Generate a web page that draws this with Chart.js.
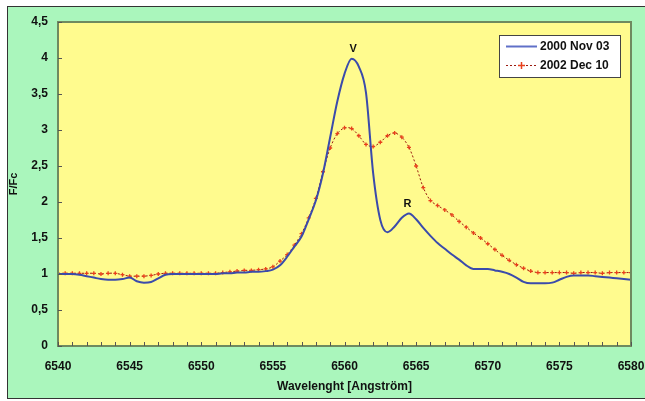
<!DOCTYPE html>
<html><head><meta charset="utf-8">
<script src="https://cdn.jsdelivr.net/npm/chart.js@4/dist/chart.umd.min.js"></script>
<style>
html,body{margin:0;padding:0;background:#fff;overflow:hidden;}
#frame{position:absolute;left:7px;top:6px;width:645px;height:393px;border:1px solid #333;background:#aaf6bc;box-sizing:border-box;}
canvas{position:absolute;left:0;top:0;}
</style></head>
<body>
<div id="frame"></div>
<canvas id="c" width="645" height="401"></canvas>
<script>
const wavelengths = [];
for (let w = 6540; w <= 6580; w += 0.5) wavelengths.push(w);

const nov2000 = [
 1.00,1.00,1.00,0.99,0.97,0.95,0.93,0.92,0.92,0.93,
 0.95,0.90,0.88,0.89,0.94,0.99,1.00,1.00,1.00,1.00,
 1.00,1.00,1.00,1.01,1.01,1.02,1.02,1.03,1.03,1.04,
 1.06,1.12,1.24,1.38,1.52,1.76,2.02,2.40,2.90,3.40,
 3.78,3.99,3.88,3.52,2.40,1.75,1.58,1.66,1.78,1.84,
 1.76,1.64,1.53,1.43,1.35,1.27,1.20,1.12,1.07,1.07,
 1.07,1.05,1.03,1.00,0.95,0.89,0.87,0.87,0.87,0.88,
 0.92,0.96,0.98,0.98,0.98,0.97,0.96,0.95,0.94,0.93,
 0.92
];
const dec2002 = [
 1.01,1.01,1.01,1.01,1.01,1.01,1.00,1.01,1.01,0.99,
 0.97,0.97,0.97,0.98,1.00,1.01,1.01,1.01,1.01,1.01,
 1.01,1.01,1.01,1.02,1.03,1.04,1.05,1.05,1.06,1.07,
 1.10,1.18,1.27,1.40,1.56,1.78,2.05,2.42,2.75,2.95,
 3.03,3.02,2.92,2.80,2.77,2.83,2.92,2.96,2.90,2.76,
 2.50,2.20,2.02,1.95,1.89,1.82,1.73,1.65,1.57,1.50,
 1.42,1.34,1.26,1.19,1.13,1.08,1.04,1.02,1.02,1.02,
 1.02,1.02,1.01,1.02,1.02,1.02,1.01,1.02,1.02,1.02,
 1.02
];
const seriesLabels = ["2000 Nov 03", "2002 Dec 10"];
const peakLabels = ["V", "R"];
const peakWave = [6560.6, 6564.4];
const peakFlux = [4.00, 1.84];

const FONT = '"Liberation Sans", Arial, sans-serif';

const deco = {
  id: 'deco',
  beforeDraw(chart) {
    const {ctx, chartArea: a} = chart;
    ctx.save();
    ctx.fillStyle = '#fffb8e';
    ctx.fillRect(a.left, a.top, a.right - a.left, a.bottom - a.top);
    ctx.restore();
  },
  afterDatasetsDraw(chart) {
    const {ctx, chartArea: a, scales: {x, y}} = chart;
    ctx.save();
    ctx.strokeStyle = '#6f8a5f';
    ctx.lineWidth = 2;
    ctx.strokeRect(a.left, a.top, a.right - a.left, a.bottom - a.top);
    ctx.lineWidth = 1;
    ctx.strokeStyle = '#555';
    x.ticks.forEach(t => {
      const px = Math.round(x.getPixelForValue(t.value)) + 0.5;
      ctx.beginPath(); ctx.moveTo(px, a.bottom); ctx.lineTo(px, a.bottom - 4); ctx.stroke();
    });
    y.ticks.forEach(t => {
      const py = Math.round(y.getPixelForValue(t.value)) + 0.5;
      ctx.beginPath(); ctx.moveTo(a.left, py); ctx.lineTo(a.left + 4, py); ctx.stroke();
    });
    ctx.fillStyle = '#111';
    ctx.font = 'bold 11px ' + FONT;
    ctx.textAlign = 'center';
    ctx.textBaseline = 'bottom';
    peakLabels.forEach((s, i) => {
      ctx.fillText(s, x.getPixelForValue(peakWave[i]), y.getPixelForValue(peakFlux[i]) - 4);
    });
    // legend
    const lx = 499, ly = 35, lw = 121, lh = 42;
    ctx.fillStyle = '#ffffff';
    ctx.fillRect(lx, ly, lw, lh);
    ctx.strokeStyle = '#444';
    ctx.lineWidth = 1;
    ctx.strokeRect(lx + 0.5, ly + 0.5, lw, lh);
    const ds = chart.data.datasets;
    const rows = [46, 65];
    ds.forEach((d, i) => {
      const yy = rows[i] + 0.5;
      ctx.save();
      ctx.strokeStyle = i === 0 ? '#6070c8' : d.borderColor;
      ctx.lineWidth = d.borderWidth;
      ctx.setLineDash(d.borderDash || []);
      ctx.beginPath(); ctx.moveTo(506, yy); ctx.lineTo(537, yy); ctx.stroke();
      ctx.restore();
      if (d.pointRadius > 0) {
        ctx.save();
        ctx.strokeStyle = d.pointBorderColor;
        ctx.lineWidth = 1.5;
        ctx.beginPath();
        ctx.moveTo(518, yy); ctx.lineTo(525, yy);
        ctx.moveTo(521.5, yy - 3.5); ctx.lineTo(521.5, yy + 3.5);
        ctx.stroke();
        ctx.restore();
      }
      ctx.fillStyle = '#111';
      ctx.font = 'bold 12px ' + FONT;
      ctx.textAlign = 'left';
      ctx.textBaseline = 'middle';
      ctx.fillText(d.label, 540, yy);
    });
    ctx.restore();
  }
};

const fmt = v => String(v).replace('.', ',');

new Chart(document.getElementById('c'), {
  type: 'line',
  data: {
    datasets: [
      {
        label: seriesLabels[0],
        data: wavelengths.map((w, i) => ({x: w, y: nov2000[i]})),
        borderColor: '#3b4bab',
        borderWidth: 2,
        pointRadius: 0,
        tension: 0.4,
        cubicInterpolationMode: 'monotone',
        fill: false
      },
      {
        label: seriesLabels[1],
        data: wavelengths.map((w, i) => ({x: w, y: dec2002[i]})),
        borderColor: '#9a1a10',
        borderWidth: 1,
        borderDash: [2, 2],
        pointStyle: 'cross',
        pointRadius: 2,
        pointBorderColor: '#e8401c',
        pointBorderWidth: 1.3,
        pointBackgroundColor: '#e8401c',
        tension: 0.3,
        fill: false
      }
    ]
  },
  options: {
    responsive: false,
    animation: false,
    events: [],
    layout: {padding: {left: 0, top: 22, right: 14, bottom: 0}},
    plugins: {legend: {display: false}, tooltip: {enabled: false}},
    scales: {
      x: {
        type: 'linear',
        min: 6540, max: 6580,
        grid: {display: false, drawTicks: false},
        border: {display: false},
        ticks: {
          stepSize: 1, autoSkip: false, maxRotation: 0, padding: 13,
          color: '#111', font: {family: FONT, size: 12, weight: 'bold'},
          callback: v => (v % 5 === 0 ? String(v) : '')
        },
        title: {display: true, text: 'Wavelenght [Angström]', color: '#111',
          font: {family: FONT, size: 12, weight: 'bold'}, padding: {top: 0, bottom: 7}},
        afterFit: s => { s.height = 55; s.paddingLeft = 0; s.paddingRight = 0; }
      },
      y: {
        min: 0, max: 4.5,
        grid: {display: false, drawTicks: false},
        border: {display: false},
        ticks: {
          stepSize: 0.5, padding: 10, color: '#111',
          font: {family: FONT, size: 12, weight: 'bold'},
          callback: v => fmt(v)
        },
        title: {display: true, text: 'F/Fc', color: '#111',
          font: {family: FONT, size: 11, weight: 'bold'}, padding: {top: 7, bottom: 0}},
        afterFit: s => { s.width = 58; s.paddingTop = 0; s.paddingBottom = 0; }
      }
    }
  },
  plugins: [deco]
});
</script>
</body></html>
